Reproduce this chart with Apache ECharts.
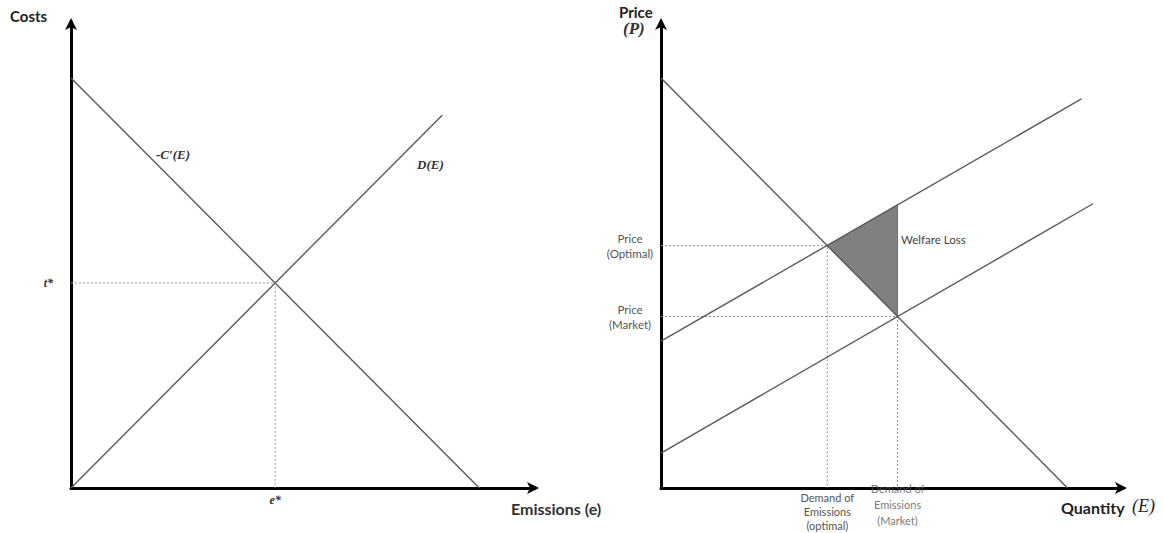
<!DOCTYPE html>
<html>
<head>
<meta charset="utf-8">
<script src="https://cdn.jsdelivr.net/npm/echarts@6/dist/echarts.min.js"></script>
<style>html,body{margin:0;padding:0;background:#fff;}#c{width:1163px;height:533px;}</style>
</head>
<body>
<div id="c"></div>
<script>
// ---- Left panel data (abstract units 0..100) ----
const marginalCost = [[0, 88], [88, 0]];      // -C'(E)
const marginalDamage = [[0, 0], [80, 80]];    // D(E)
const leftOptimum = [44, 44];                 // (e*, t*)
const leftYTicks = ['t*'];
const leftXTicks = ['e*'];

// ---- Right panel data ----
const demandLine = [[0, 88], [88, 0]];
const supplyUpper = [[0, 31.5], [91, 83.5]];
const supplyLower = [[0, 7.5], [93.5, 61]];
const optimalPoint = [36, 52];
const marketPoint = [51.2, 36.8];
const welfareTriangle = [[36, 52], [51.2, 60.8], [51.2, 36.8]];
const rightYTicks = ['Price\n(Optimal)', 'Price\n(Market)'];
const rightXTicks = ['Demand of\nEmissions\n(optimal)', 'Demand of\nEmissions\n(Market)'];

const SANS = 'Lato, "Open Sans", sans-serif';
const SERIF = '"Liberation Serif", "DejaVu Serif", serif';
const LINE = '#5a5a5a';

function guide(p) { return [[0, p[1]], [p[0], p[1]], [p[0], 0]]; }

function axisBase(extra) {
  return Object.assign({
    type: 'value', min: 0, max: 100,
    splitLine: { show: false },
    axisTick: { show: false },
    axisLine: { show: true, onZero: false, symbol: ['none', 'arrow'], symbolSize: [9, 12], symbolOffset: [0, 4],
      lineStyle: { color: '#000', width: 3 } }
  }, extra);
}

const chart = echarts.init(document.getElementById('c'), null, { renderer: 'svg' });
chart.setOption({
  animation: false,
  grid: [
    { left: 71, top: 22, width: 464, height: 466, containLabel: false, outerBoundsMode: 'none' },
    { left: 661, top: 22, width: 462, height: 466, containLabel: false, outerBoundsMode: 'none' }
  ],
  xAxis: [
    axisBase({ gridIndex: 0, axisLabel: { customValues: [leftOptimum[0]], formatter: () => leftXTicks[0],
      margin: 6, fontFamily: SERIF, fontStyle: 'italic', fontWeight: 'bold', fontSize: 12, color: '#333' } }),
    axisBase({ gridIndex: 1, axisLabel: { customValues: [optimalPoint[0]], formatter: () => rightXTicks[0],
      margin: 2, fontFamily: SANS, fontSize: 11, lineHeight: 14, color: '#555' } })
  ],
  yAxis: [
    axisBase({ gridIndex: 0, axisLabel: { customValues: [leftOptimum[1]], formatter: () => leftYTicks[0],
      margin: 18, fontFamily: SERIF, fontStyle: 'italic', fontWeight: 'bold', fontSize: 12, color: '#333' } }),
    axisBase({ gridIndex: 1, axisLabel: { customValues: [optimalPoint[1], marketPoint[1]],
      formatter: (v) => (v === optimalPoint[1] ? rightYTicks[0] : rightYTicks[1]),
      align: 'center', margin: 31, fontFamily: SANS, fontSize: 11.5, lineHeight: 15, color: '#555' } })
  ],
  series: [
    { type: 'line', xAxisIndex: 0, yAxisIndex: 0, data: marginalCost, symbol: 'none', lineStyle: { color: LINE, width: 1.4 } },
    { type: 'line', xAxisIndex: 0, yAxisIndex: 0, data: marginalDamage, symbol: 'none', lineStyle: { color: LINE, width: 1.4 } },
    { type: 'line', xAxisIndex: 0, yAxisIndex: 0, data: guide(leftOptimum), symbol: 'none', lineStyle: { color: '#999', width: 1, type: [2, 2] } },
    { type: 'custom', xAxisIndex: 1, yAxisIndex: 1, data: [welfareTriangle[0]], z: 1,
      renderItem: function (params, api) {
        return { type: 'polygon', shape: { points: welfareTriangle.map(p => api.coord(p)) },
          style: { fill: '#808080', stroke: '#6e6e6e', lineWidth: 1 } };
      } },
    { type: 'line', xAxisIndex: 1, yAxisIndex: 1, data: guide(optimalPoint), symbol: 'none', lineStyle: { color: '#888', width: 1, type: [2, 2] } },
    { type: 'line', xAxisIndex: 1, yAxisIndex: 1, data: guide(marketPoint), symbol: 'none', lineStyle: { color: '#888', width: 1, type: [2, 2] } },
    { type: 'line', xAxisIndex: 1, yAxisIndex: 1, data: demandLine, symbol: 'none', lineStyle: { color: LINE, width: 1.4 } },
    { type: 'line', xAxisIndex: 1, yAxisIndex: 1, data: supplyUpper, symbol: 'none', lineStyle: { color: LINE, width: 1.4 } },
    { type: 'line', xAxisIndex: 1, yAxisIndex: 1, data: supplyLower, symbol: 'none', lineStyle: { color: LINE, width: 1.4 } },
    { type: 'scatter', xAxisIndex: 1, yAxisIndex: 1, data: [[marketPoint[0], 0]], symbolSize: 0, silent: true, z: 1,
      label: { show: true, position: 'bottom', distance: -8, formatter: () => rightXTicks[1],
        fontFamily: SANS, fontSize: 11, lineHeight: 16, color: '#555' } }
  ],
  graphic: [
    { type: 'text', left: 10, top: 8, style: { text: 'Costs', font: 'bold 15px ' + SANS, fill: '#222' } },
    { type: 'text', left: 511, top: 500, style: { text: 'Emissions (e)', font: 'bold 16px ' + SANS, fill: '#333' } },
    { type: 'text', left: 156, top: 148, style: { text: '-C\u2032(E)', font: 'italic bold 13px ' + SERIF, fill: '#333' } },
    { type: 'text', left: 417, top: 158, style: { text: 'D(E)', font: 'italic bold 13px ' + SERIF, fill: '#333' } },
    { type: 'text', left: 619, top: 4, style: { text: 'Price', font: 'bold 15px ' + SANS, fill: '#222' } },
    { type: 'text', left: 623, top: 20, style: { text: '(P)', font: 'italic bold 17px ' + SERIF, fill: '#333' } },
    { type: 'text', left: 1061, top: 499, style: { text: 'Quantity', font: 'bold 16px ' + SANS, fill: '#222' } },
    { type: 'text', left: 1132, top: 497, style: { text: '(E)', font: 'italic 18px ' + SERIF, fill: '#222' } },
    { type: 'text', left: 901, top: 233, style: { text: 'Welfare Loss', font: '11.5px ' + SANS, fill: '#444' } }
  ]
});
</script>
</body>
</html>
